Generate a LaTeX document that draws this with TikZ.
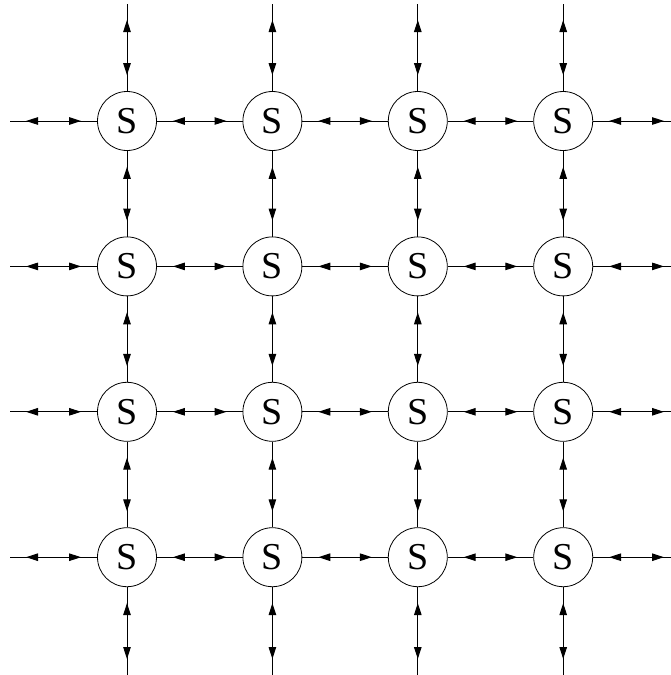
\documentclass[tikz,border=0pt]{standalone}
\usepackage{fontspec}
\setmainfont{Liberation Serif}
\usetikzlibrary{arrows.meta,decorations.markings}
\tikzset{
  sw/.style={circle,draw,line width=0.8pt,minimum size=59pt,inner sep=0pt,font=\fontsize{38}{38}\selectfont},
  link/.style={line width=1pt,postaction={decorate},decoration={markings,
    mark=at position 16pt with {\arrowreversed{Triangle[length=12pt,width=7.5pt]}},
    mark=at position -16pt with {\arrow{Triangle[length=12pt,width=7.5pt]}}}}
}
\begin{document}
\begin{tikzpicture}[x=1pt,y=-1pt]
\useasboundingbox (0,0) rectangle (671,675);
\foreach \i in {0,1,2,3}{
  \foreach \j in {0,1,2,3}{
    \node[sw] (n\i\j) at ({127+145.4*\i},{121+145.4*\j}) {S};
  }
}
\foreach \i in {0,1,2,3}{
  \coordinate (t\i) at ({127+145.4*\i},4);
  \coordinate (b\i) at ({127+145.4*\i},675);
  \coordinate (l\i) at (10,{121+145.4*\i});
  \coordinate (r\i) at (680,{121+145.4*\i});
  \draw[link] (t\i) -- (n\i0);
  \draw[link] (b\i) -- (n\i3);
  \draw[link] (l\i) -- (n0\i);
  \draw[link] (r\i) -- (n3\i);
}
\foreach \i in {0,1,2,3}{
  \foreach \j/\k in {0/1,1/2,2/3}{
    \draw[link] (n\j\i) -- (n\k\i);
    \draw[link] (n\i\j) -- (n\i\k);
  }
}
\end{tikzpicture}
\end{document}
